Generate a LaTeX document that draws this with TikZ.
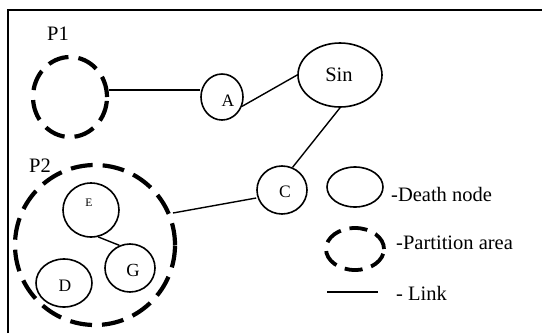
\documentclass[tikz,border=0pt]{standalone}
\usepackage{fontspec}
\setmainfont{Liberation Serif}
\usetikzlibrary{shapes.geometric}
\begin{document}
\begin{tikzpicture}[x=1pt,y=-1pt,
  dnode/.style={draw,ellipse,line width=1.6pt,inner sep=0pt},
  parea/.style={draw,ellipse,line width=4.2pt,dash pattern=on 21pt off 10pt,inner sep=0pt},
  link/.style={line width=1.4pt},
  lbl/.style={font=\fontsize{20.5}{24}\selectfont},
  nlbl/.style={font=\fontsize{17.5}{20}\selectfont}]
\useasboundingbox (0,0) rectangle (542,333);
\draw[line width=1.6pt] (8,333) -- (8,10) -- (542,10);
% partitions
\node[parea,minimum width=74pt,minimum height=80pt] (P1) at (70,97) {};
\node[lbl] (P1l) at (58,34) {P1};
\node[parea,minimum width=160pt,minimum height=160pt,dash pattern=on 22pt off 10pt] (P2) at (95,245) {};
\node[lbl] (P2l) at (40,166) {P2};
% nodes
\node[dnode,minimum width=42pt,minimum height=46pt] (A) at (222,97) {};
\node[nlbl] (Al) at (228,101) {A};
\node[dnode,minimum width=84pt,minimum height=64pt] (Sin) at (340,75) {};
\node[lbl] (Sinl) at (339,75) {Sin};
\node[dnode,minimum width=50pt,minimum height=48pt] (C) at (282,190) {};
\node[nlbl] (Cl) at (285,192) {C};
\node[dnode,minimum width=56pt,minimum height=54pt] (E) at (91,210) {};
\node[font=\fontsize{11.5}{13}\selectfont] (El) at (89,203) {E};
\node[dnode,minimum width=50pt,minimum height=48pt] (G) at (130,268) {};
\node[font=\fontsize{18.5}{20}\selectfont] (Gl) at (133,270) {G};
\node[dnode,minimum width=56pt,minimum height=48pt] (D) at (64,283) {};
\node[nlbl] (Dl) at (65,286) {D};
% links
\draw[link] (P1.east) ++(0,-7) coordinate (p1e) -- (p1e -| A.west);
\draw[link] (A.-25) -- (Sin.west);
\draw[link] (Sin.south) -- (C.65);
\draw[link] (C.west) ++(0,8) coordinate (cw) -- (173,213) coordinate (p2c);
\draw[link] (E.-75) -- (G.115);
% legend
\node[dnode,minimum width=56pt,minimum height=40pt] (Ld) at (355,187) {};
\node[lbl,anchor=west,inner sep=0pt] (Ldt) at (391,194) {-Death node};
\node[parea,minimum width=58pt,minimum height=42pt,dash pattern=on 18pt off 9pt,line width=3.8pt] (Lp) at (355,249) {};
\node[lbl,anchor=west,inner sep=0pt] (Lpt) at (396,243) {-Partition area};
\coordinate (La) at (327,292);
\coordinate (Lb) at (378,292);
\draw[link] (La) -- (Lb);
\node[lbl,anchor=west,inner sep=0pt] (Llt) at (396,293) {- Link};
\end{tikzpicture}
\end{document}
